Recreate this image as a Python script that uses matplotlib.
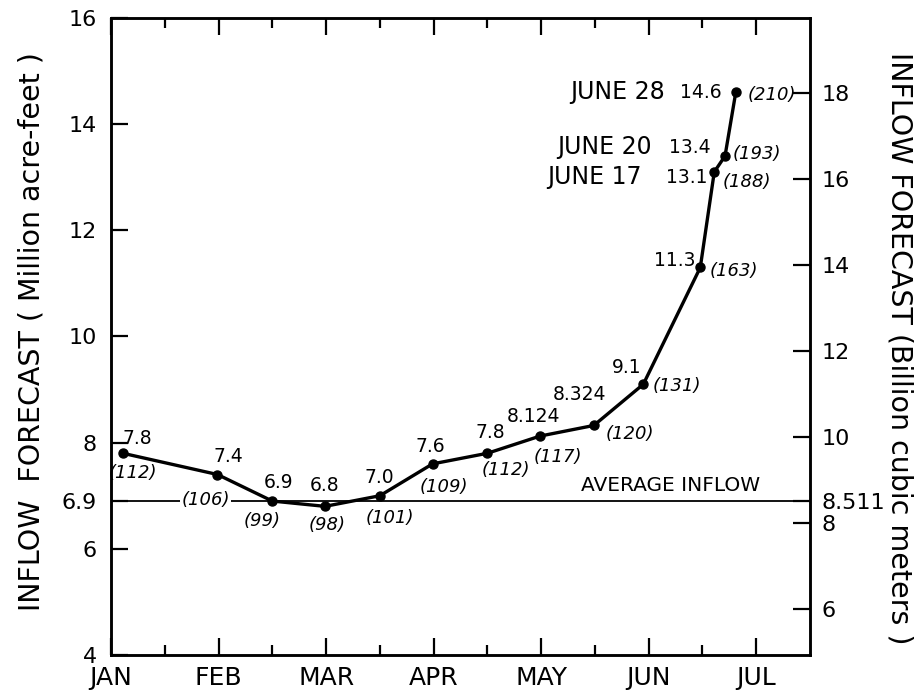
import matplotlib
matplotlib.use("Agg")
import matplotlib.pyplot as plt
from matplotlib.ticker import FixedLocator

plt.rcParams['font.family'] = 'DejaVu Sans'

MAF_TO_BCM = 8.511 / 6.9
AVERAGE_INFLOW = 6.9

# months since Jan 1 (JAN = 0)
months = [0.11, 0.99, 1.5, 1.99, 2.5, 2.99, 3.5, 3.99, 4.49, 4.95, 5.48, 5.61, 5.71, 5.81]
forecast = [7.8, 7.4, 6.9, 6.8, 7.0, 7.6, 7.8, 8.124, 8.324, 9.1, 11.3, 13.1, 13.4, 14.6]
value_labels = ['7.8', '7.4', '6.9', '6.8', '7.0', '7.6', '7.8', '8.124', '8.324', '9.1',
                '11.3', '13.1', '13.4', '14.6']
percent_labels = ['(112)', '(106)', '(99)', '(98)', '(101)', '(109)', '(112)', '(117)',
                  '(120)', '(131)', '(163)', '(188)', '(193)', '(210)']
date_labels = {11: 'JUNE 17', 12: 'JUNE 20', 13: 'JUNE 28'}

month_names = ['JAN', 'FEB', 'MAR', 'APR', 'MAY', 'JUN', 'JUL']
left_ticks = [4, 6, 6.9, 8, 10, 12, 14, 16]
left_tick_labels = ['4', '6', '6.9', '8', '10', '12', '14', '16']
right_ticks = [6, 8, 8.511, 10, 12, 14, 16, 18]
right_tick_labels = ['6', '8', '8.511', '10', '12', '14', '16', '18']

# label offsets in pixels from each point
value_offsets = [(14, 15), (11, 18), (6, 19), (0, 21), (-1, 18), (-2, 17), (3, 21), (-7, 20),
                 (-14, 31), (-17, 17), (-26, 7), (-28, -6), (-35, 8), (-35, 0)]
percent_offsets = [(10, -20), (-12, -25), (-10, -20), (2, -19), (10, -22), (11, -23), (18, -17),
                   (18, -21), (36, -9), (34, -2), (34, -4), (33, -10), (32, 2), (36, -3)]
date_offsets = {11: (-73, -5), 12: (-73, 9), 13: (-71, 0)}

fig = plt.figure(figsize=(9.22, 6.94), dpi=100)
ax = fig.add_axes([0.1204, 0.0562, 0.7581, 0.9179])

ax.axhline(AVERAGE_INFLOW, color='black', lw=1.3, zorder=1)
ax.plot(months, forecast, '-o', color='black', lw=2.4, ms=6.5, zorder=3)

for i, (x, y) in enumerate(zip(months, forecast)):
    ax.annotate(value_labels[i], (x, y), xytext=value_offsets[i], textcoords='offset pixels',
                ha='center', va='center', fontsize=13.5)
    box = dict(fc='white', ec='none', pad=1) if i == 1 else None
    ax.annotate(percent_labels[i], (x, y), xytext=percent_offsets[i], textcoords='offset pixels',
                ha='center', va='center', fontsize=13, style='italic', bbox=box, zorder=4)
    if i in date_labels:
        ax.annotate(date_labels[i], (x, y), xytext=date_offsets[i], textcoords='offset pixels',
                    ha='right', va='center', fontsize=17)

ax.annotate('AVERAGE INFLOW', (5.2, AVERAGE_INFLOW), xytext=(0, 6), textcoords='offset pixels',
            ha='center', va='bottom', fontsize=14.5)

ax.set_xlim(0, 6.5)
ax.set_ylim(4, 16)
ax.set_xticks(range(len(month_names)))
ax.set_xticklabels(month_names, fontsize=18)
ax.xaxis.set_minor_locator(FixedLocator([0.5, 1.5, 2.5, 3.5, 4.5, 5.5]))
ax.set_yticks(left_ticks)
ax.set_yticklabels(left_tick_labels, fontsize=16)
ax.tick_params(axis='x', which='major', direction='in', top=True, length=12, width=1.6, pad=8)
ax.tick_params(axis='x', which='minor', direction='in', top=True, length=7.5, width=1.6)
ax.tick_params(axis='y', direction='in', length=12, width=1.6, pad=10)

ax2 = ax.twinx()
ax2.set_ylim(4 * MAF_TO_BCM, 16 * MAF_TO_BCM)
ax2.set_yticks(right_ticks)
ax2.set_yticklabels(right_tick_labels, fontsize=16)
ax2.tick_params(axis='y', direction='in', length=12, width=1.6, pad=8)

for a in (ax, ax2):
    for s in a.spines.values():
        s.set_linewidth(1.8)

fig.text(0.0347, 0.5216, 'INFLOW  FORECAST ( Million acre-feet )', rotation=90,
         ha='center', va='center', fontsize=20.5)
fig.text(0.976, 0.4986, 'INFLOW FORECAST (Billion cubic meters )', rotation=-90,
         ha='center', va='center', fontsize=20.5)

fig.savefig('out.png', dpi=100)
